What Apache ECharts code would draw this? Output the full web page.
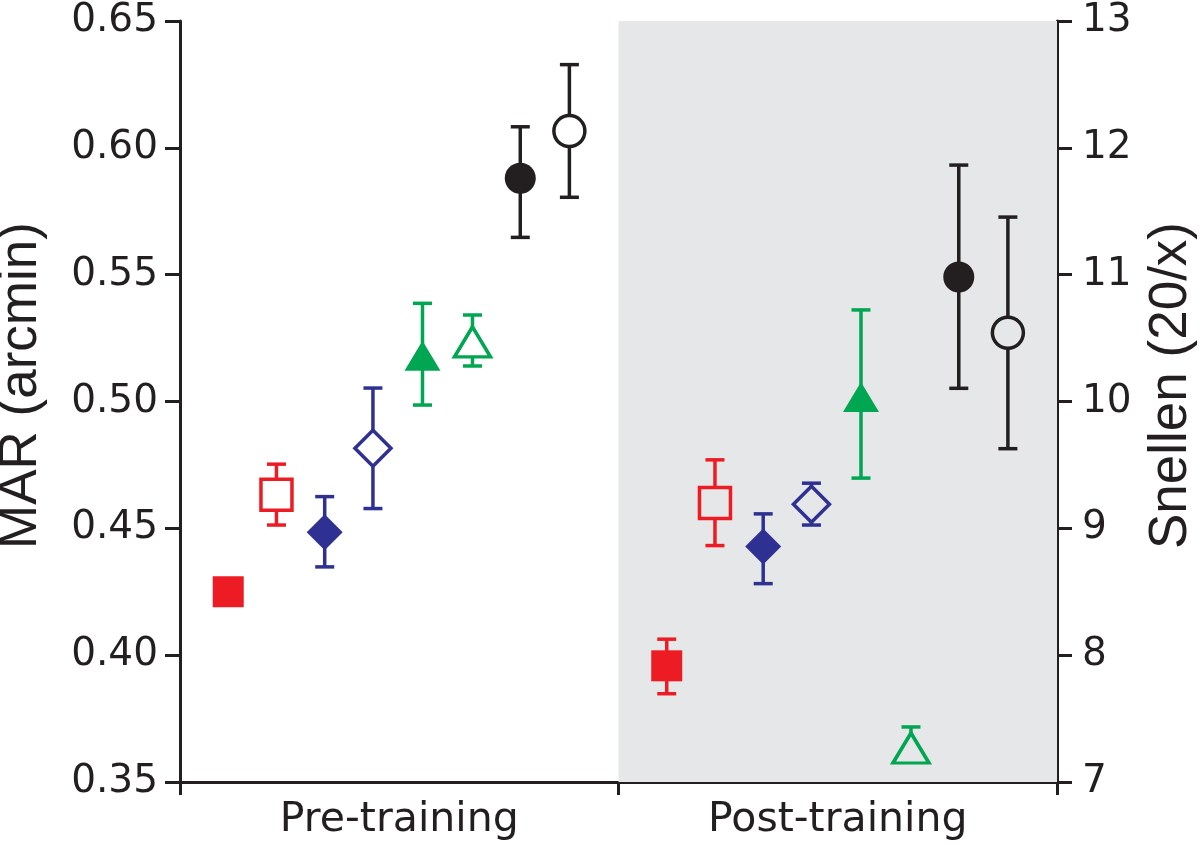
<!DOCTYPE html>
<html>
<head>
<meta charset="utf-8">
<script src="https://cdn.jsdelivr.net/npm/echarts@6/dist/echarts.min.js"></script>
<style>
  html, body { margin: 0; padding: 0; background: #fff; }
  #chart { width: 1200px; height: 845px; }
</style>
</head>
<body>
<div id="chart"></div>
<script>
  // groups on the x axis (each spans one unit)
  var groupLabels = ['Pre-training', 'Post-training'];
  // position of each condition inside its group
  var condOffsets = [0.11, 0.22, 0.33, 0.44, 0.553, 0.667, 0.776, 0.888];
  var condColors = ['#ed1c24', '#ed1c24', '#2e3192', '#2e3192', '#00a651', '#00a651', '#231f20', '#231f20'];
  var condSymbols = ['rect', 'rect', 'diamond', 'diamond', 'triangle', 'triangle', 'circle', 'circle'];
  var condFilled = [true, false, true, false, true, false, true, false];

  // MAR (arcmin) values
  var preMean = [0.425, 0.4632, 0.4485, 0.4816, 0.518, 0.5235, 0.588, 0.6066];
  var preLow  = [null, 0.4513, 0.4348, 0.4578, 0.4986, 0.514, 0.5647, 0.5805];
  var preHigh = [null, 0.4753, 0.4625, 0.5053, 0.5387, 0.5341, 0.6083, 0.6328];
  var postMean = [0.3958, 0.46, 0.4428, 0.4595, 0.5018, 0.3634, 0.5491, 0.5271];
  var postLow  = [0.3848, 0.4432, 0.4282, 0.4513, 0.4698, 0.3584, 0.5052, 0.4814];
  var postHigh = [0.4063, 0.477, 0.4557, 0.4678, 0.5361, 0.3717, 0.5932, 0.5727];

  var marTicks = [0.35, 0.40, 0.45, 0.50, 0.55, 0.60, 0.65];
  var snellenTicks = [7, 8, 9, 10, 11, 12, 13];

  var ink = '#231f20';
  var shade = '#e6e7e8';

  var chart = echarts.init(document.getElementById('chart'));

  // error bars
  var errData = [];
  [[preLow, preHigh], [postLow, postHigh]].forEach(function (g, gi) {
    for (var i = 0; i < condOffsets.length; i++) {
      if (g[0][i] == null) continue;
      errData.push({ value: [gi + condOffsets[i], g[0][i], g[1][i]], itemStyle: { color: condColors[i] } });
    }
  });

  var series = [{
    // grey background behind the post-training half
    type: 'line', data: [], z: -1, silent: true,
    markArea: { silent: true, itemStyle: { color: shade }, data: [[{ xAxis: 1 }, { xAxis: 2 }]] }
  }, {
    type: 'custom',
    z: 3,
    data: errData,
    renderItem: function (params, api) {
      var x = api.value(0);
      var top = api.coord([x, api.value(2)]);
      var bot = api.coord([x, api.value(1)]);
      var c = api.visual('color');
      var st = { stroke: c, lineWidth: 3.5 };
      var w = 9.5;
      return {
        type: 'group',
        children: [
          { type: 'line', shape: { x1: top[0], y1: top[1], x2: bot[0], y2: bot[1] }, style: st },
          { type: 'line', shape: { x1: top[0] - w, y1: top[1], x2: top[0] + w, y2: top[1] }, style: st },
          { type: 'line', shape: { x1: bot[0] - w, y1: bot[1], x2: bot[0] + w, y2: bot[1] }, style: st }
        ]
      };
    }
  }];

  for (var i = 0; i < condOffsets.length; i++) {
    var size = 31;
    if (condSymbols[i] === 'diamond') size = [36, 36];
    if (condSymbols[i] === 'triangle') size = [36, 30];
    var pts = [preMean[i], postMean[i]].map(function (v, gi) {
      return {
        value: [gi + condOffsets[i], v],
        itemStyle: condFilled[i]
          ? { color: condColors[i], opacity: 1 }
          : { color: gi === 0 ? '#ffffff' : shade, borderColor: condColors[i], borderWidth: 3.5, opacity: 1 }
      };
    });
    series.push({
      type: 'scatter',
      z: 5,
      symbol: condSymbols[i],
      symbolSize: size,
      itemStyle: { opacity: 1 },
      data: pts
    });
  }

  chart.setOption({
    animation: false,
    grid: { left: 180, right: 143, top: 21, bottom: 63, outerBoundsMode: 'none', containLabel: false },
    xAxis: {
      type: 'value', min: 0, max: groupLabels.length,
      splitLine: { show: false },
      axisLine: { lineStyle: { color: ink, width: 3 } },
      axisTick: { length: 13, lineStyle: { color: ink, width: 3 }, customValues: [0, 1, 2] },
      axisLabel: {
        customValues: [0.5, 1.5], margin: 18,
        color: ink, fontFamily: 'DejaVu Sans', fontSize: 41,
        formatter: function (v) { return groupLabels[Math.floor(v)]; }
      }
    },
    yAxis: [{
      type: 'value', min: marTicks[0], max: marTicks[marTicks.length - 1], interval: 0.05,
      name: 'MAR (arcmin)', nameLocation: 'middle', nameGap: 132,
      nameTextStyle: { color: ink, fontFamily: 'Liberation Sans', fontSize: 53, padding: [0, 0, 0, 32] },
      splitLine: { show: false },
      axisLine: { show: true, lineStyle: { color: ink, width: 3 } },
      axisTick: { show: true, length: 15, lineStyle: { color: ink, width: 3 } },
      axisLabel: {
        margin: 22, color: ink, fontFamily: 'DejaVu Sans', fontSize: 39,
        formatter: function (v) { return v.toFixed(2); }
      }
    }, {
      type: 'value', position: 'right',
      min: snellenTicks[0], max: snellenTicks[snellenTicks.length - 1], interval: 1,
      name: 'Snellen (20/x)', nameLocation: 'middle', nameGap: 88, nameRotate: 90,
      nameTextStyle: { color: ink, fontFamily: 'Liberation Sans', fontSize: 53, padding: [0, 0, 0, 32] },
      splitLine: { show: false },
      axisLine: { show: true, lineStyle: { color: ink, width: 3 } },
      axisTick: { show: true, length: 15, lineStyle: { color: ink, width: 3 } },
      axisLabel: { margin: 25, color: ink, fontFamily: 'DejaVu Sans', fontSize: 39 }
    }],
    series: series
  });
</script>
</body>
</html>
